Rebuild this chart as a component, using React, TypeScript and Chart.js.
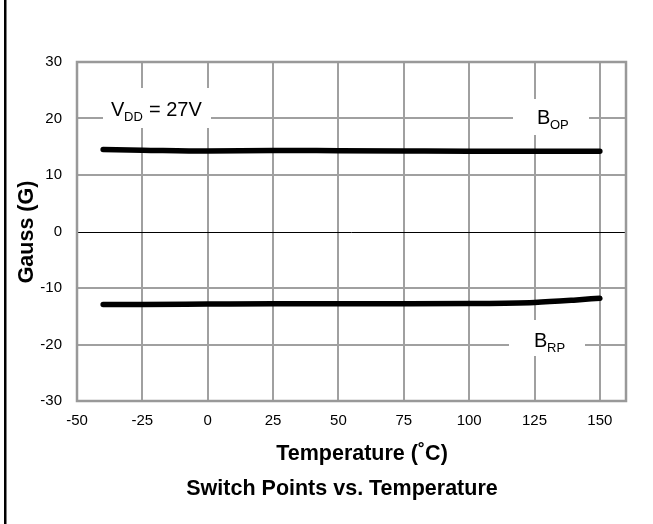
import React, { useEffect, useRef } from "react";
import { Chart, registerables } from "chart.js";

Chart.register(...registerables);

const temps = [-40, -25, 0, 25, 50, 75, 100, 125, 140, 150];
const bop = [14.5, 14.4, 14.25, 14.35, 14.3, 14.25, 14.2, 14.2, 14.2, 14.2];
const brp = [-12.9, -12.9, -12.85, -12.8, -12.8, -12.8, -12.75, -12.55, -12.15, -11.8];
const xTicks = [-50, -25, 0, 25, 50, 75, 100, 125, 150];
const yTicks = [-30, -20, -10, 0, 10, 20, 30];

const FONT = "'Liberation Sans', Arial, sans-serif";
const GRID = "#a0a0a0";

const overlay = {
  id: "overlay",
  beforeDatasetsDraw(chart: any) {
    const { ctx, chartArea: a, scales } = chart;
    const y = scales.y;
    ctx.save();
    ctx.strokeStyle = "#000";
    ctx.lineWidth = 1;
    const y0 = Math.round(y.getPixelForValue(0)) + 0.5;
    ctx.beginPath();
    ctx.moveTo(a.left, y0);
    ctx.lineTo(a.right, y0);
    ctx.stroke();
    ctx.strokeStyle = "#999";
    ctx.lineWidth = 2.5;
    ctx.strokeRect(a.left, a.top, a.right - a.left, a.bottom - a.top);
    ctx.fillStyle = "#fff";
    ctx.fillRect(103, 88, 108, 40);
    ctx.fillRect(513, 99, 76, 36);
    ctx.fillRect(509, 320, 76, 36);
    ctx.fillStyle = "#000";
    ctx.textBaseline = "alphabetic";
    ctx.textAlign = "left";
    ctx.font = `20px ${FONT}`;
    ctx.fillText("V", 111, 116);
    ctx.fillText("= 27V", 149, 116);
    ctx.fillText("B", 537, 124);
    ctx.fillText("B", 534, 347);
    ctx.font = `13px ${FONT}`;
    ctx.fillText("DD", 124, 121);
    ctx.fillText("OP", 550, 129);
    ctx.fillText("RP", 547, 352);
    ctx.restore();
  },
  afterDraw(chart: any) {
    const { ctx } = chart;
    ctx.save();
    ctx.fillStyle = "#000";
    ctx.textAlign = "center";
    ctx.textBaseline = "middle";
    ctx.font = `bold 21.5px ${FONT}`;
    ctx.fillText("Temperature (\u02DAC)", 362, 454);
    ctx.fillText("Switch Points vs. Temperature", 342, 489);
    ctx.translate(27, 232);
    ctx.rotate(-Math.PI / 2);
    ctx.fillText("Gauss (G)", 0, 0);
    ctx.restore();
    ctx.save();
    ctx.fillStyle = "#000";
    ctx.fillRect(4, 0, 2.5, 524);
    ctx.restore();
  },
};

export default function App() {
  const ref = useRef<HTMLCanvasElement | null>(null);
  useEffect(() => {
    document.body.style.margin = "0";
    const canvas = ref.current!;
    const chart = new Chart(canvas, {
      type: "line",
      data: {
        datasets: [
          {
            label: "BOP",
            data: temps.map((t, i) => ({ x: t, y: bop[i] })),
            borderColor: "#000",
            borderWidth: 5.5,
            borderCapStyle: "round",
            pointRadius: 0,
            cubicInterpolationMode: "monotone",
          },
          {
            label: "BRP",
            data: temps.map((t, i) => ({ x: t, y: brp[i] })),
            borderColor: "#000",
            borderWidth: 5.5,
            borderCapStyle: "round",
            pointRadius: 0,
            cubicInterpolationMode: "monotone",
          },
        ],
      },
      options: {
        animation: false,
        responsive: false,
        devicePixelRatio: 1,
        layout: { padding: { top: 62, right: 27, left: 0, bottom: 0 } },
        plugins: { legend: { display: false }, tooltip: { enabled: false }, title: { display: false } },
        scales: {
          x: {
            type: "linear",
            min: -50,
            max: 160,
            afterBuildTicks: (s: any) => {
              s.ticks = xTicks.map((v) => ({ value: v }));
            },
            afterFit: (s: any) => {
              s.height = 123;
            },
            ticks: {
              font: { family: FONT, size: 15 },
              color: "#000",
              padding: 11,
              maxRotation: 0,
            },
            grid: { color: GRID, lineWidth: 2, drawTicks: false },
            border: { display: false },
          },
          y: {
            type: "linear",
            min: -30,
            max: 30,
            afterBuildTicks: (s: any) => {
              s.ticks = yTicks.map((v) => ({ value: v }));
            },
            afterFit: (s: any) => {
              s.width = 77;
            },
            ticks: {
              font: { family: FONT, size: 15 },
              color: "#000",
              padding: 15,
            },
            grid: {
              color: (c: any) => (c.tick && c.tick.value === 0 ? "rgba(0,0,0,0)" : GRID),
              lineWidth: 2,
              drawTicks: false,
            },
            border: { display: false },
          },
        },
      },
      plugins: [overlay],
    });
    return () => chart.destroy();
  }, []);
  return <canvas ref={ref} width={653} height={524} style={{ display: "block" }} />;
}
